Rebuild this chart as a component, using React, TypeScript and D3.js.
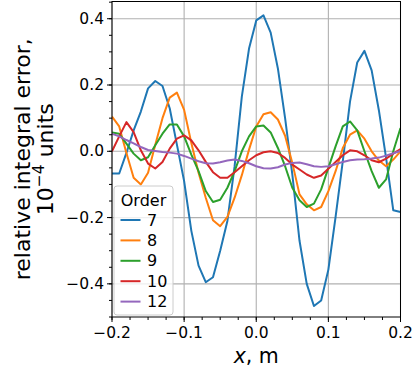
import React from "react";
import * as d3 from "d3";

// sample positions, m
const xs = [
  -0.2, -0.19, -0.18, -0.17, -0.16, -0.15, -0.14, -0.13, -0.12, -0.11, -0.1,
  -0.09, -0.08, -0.07, -0.06, -0.05, -0.04, -0.03, -0.02, -0.01, 0.0, 0.01,
  0.02, 0.03, 0.04, 0.05, 0.06, 0.07, 0.08, 0.09, 0.1, 0.11, 0.12, 0.13, 0.14,
  0.15, 0.16, 0.17, 0.18, 0.19, 0.2,
];

const order7 = [
  -0.067, -0.067, -0.005, 0.063, 0.12, 0.19, 0.212, 0.197, 0.13, 0.02, -0.09,
  -0.24, -0.345, -0.395, -0.38, -0.3, -0.21, -0.045, 0.165, 0.31, 0.395, 0.41,
  0.358, 0.25, 0.1, -0.07, -0.27, -0.4, -0.467, -0.45, -0.357, -0.198, -0.03,
  0.15, 0.268, 0.303, 0.244, 0.124, -0.02, -0.178, -0.183,
];
const order8 = [
  0.105, 0.075, -0.005, -0.08, -0.1, -0.065, 0.02, 0.1, 0.162, 0.177, 0.125,
  0.025, -0.065, -0.14, -0.208, -0.226, -0.198, -0.14, -0.072, 0.005, 0.075,
  0.112, 0.118, 0.096, 0.047, -0.035, -0.13, -0.16, -0.178, -0.168, -0.12,
  -0.06, 0.01, 0.05, 0.063, 0.038, 0.0, -0.028, -0.045, -0.025, 0.0,
];
const order9 = [
  0.057, 0.053, 0.023, -0.007, -0.027, -0.018, 0.018, 0.053, 0.081, 0.081,
  0.045, -0.01, -0.06, -0.12, -0.153, -0.146, -0.11, -0.06, 0.0, 0.045, 0.075,
  0.078, 0.057, 0.01, -0.045, -0.11, -0.148, -0.168, -0.158, -0.115, -0.05,
  0.015, 0.075, 0.09, 0.063, 0.0, -0.06, -0.11, -0.085, 0.0, 0.07,
];
const order10 = [
  0.0, 0.045, 0.088, 0.058, 0.003, -0.037, -0.052, -0.032, 0.008, 0.038, 0.048,
  0.033, 0.003, -0.032, -0.063, -0.08, -0.08, -0.063, -0.045, -0.027, -0.012,
  -0.003, 0.0, -0.005, -0.02, -0.04, -0.055, -0.07, -0.08, -0.073, -0.053,
  -0.032, -0.012, 0.003, 0.0, -0.012, -0.027, -0.033, -0.022, -0.007, 0.007,
];
const order12 = [
  0.053, 0.045, 0.034, 0.024, 0.013, 0.004, 0.001, -0.002, -0.004, -0.007,
  -0.014, -0.022, -0.03, -0.036, -0.037, -0.033, -0.028, -0.025, -0.029,
  -0.036, -0.045, -0.051, -0.052, -0.048, -0.04, -0.035, -0.034, -0.039,
  -0.045, -0.047, -0.045, -0.039, -0.032, -0.027, -0.025, -0.024, -0.022,
  -0.019, -0.013, -0.006, 0.001,
];

const orders = ["7", "8", "9", "10", "12"];
const seriesValues = [order7, order8, order9, order10, order12];
const colors = ["#1f77b4", "#ff7f0e", "#2ca02c", "#d62728", "#9467bd"];

const xTicks = [-0.2, -0.1, 0.0, 0.1, 0.2];
const yTicks = [-0.4, -0.2, 0.0, 0.2, 0.4];
const xMinor = [
  -0.2, -0.175, -0.15, -0.125, -0.1, -0.075, -0.05, -0.025, 0, 0.025, 0.05,
  0.075, 0.1, 0.125, 0.15, 0.175, 0.2,
];
const yMinor = [
  -0.5, -0.45, -0.4, -0.35, -0.3, -0.25, -0.2, -0.15, -0.1, -0.05, 0, 0.05,
  0.1, 0.15, 0.2, 0.25, 0.3, 0.35, 0.4, 0.45,
];

const W = 415;
const H = 369;
const m = { left: 112, right: 400.5, top: 1.5, bottom: 317 };
const FONT = "DejaVu Sans";

const fmt = (v: number) => d3.format(".1f")(v).replace("-", "\u2212");

export default function App() {
  const x = d3.scaleLinear().domain([-0.2, 0.2]).range([m.left, m.right]);
  const y = d3.scaleLinear().domain([-0.5, 0.452]).range([m.bottom, m.top]);

  const line = d3
    .line<number>()
    .x((_, i) => x(xs[i]))
    .y((d) => y(d));

  const legendX = 114;
  const legendY = 186;
  const rowY = (i: number) => legendY + 34 + i * 20.4;
  const midY = (m.top + m.bottom) / 2;

  return (
    <svg
      width={W}
      height={H}
      style={{ position: "absolute", left: 0, top: 0, background: "#fff" }}
      fontFamily={FONT}
    >
      <defs>
        <clipPath id="plot">
          <rect x={m.left} y={m.top} width={m.right - m.left} height={m.bottom - m.top} />
        </clipPath>
      </defs>

      {/* grid */}
      <g stroke="#b0b0b0" strokeWidth={1.1}>
        {xTicks.map((t) => (
          <line key={"gx" + t} x1={x(t)} x2={x(t)} y1={m.top} y2={m.bottom} />
        ))}
        {yTicks.map((t) => (
          <line key={"gy" + t} x1={m.left} x2={m.right} y1={y(t)} y2={y(t)} />
        ))}
      </g>

      {/* series */}
      <g clipPath="url(#plot)" fill="none" strokeWidth={2} strokeLinejoin="round">
        {seriesValues.map((vals, i) => (
          <path key={orders[i]} d={line(vals) || ""} stroke={colors[i]} />
        ))}
      </g>

      {/* frame */}
      <rect
        x={m.left}
        y={m.top}
        width={m.right - m.left}
        height={m.bottom - m.top}
        fill="none"
        stroke="#000"
        strokeWidth={1}
      />

      {/* ticks */}
      <g stroke="#000" strokeWidth={1}>
        {xMinor.map((t) => (
          <line key={"mx" + t} x1={x(t)} x2={x(t)} y1={m.bottom} y2={m.bottom + 3} />
        ))}
        {xTicks.map((t) => (
          <line key={"tx" + t} x1={x(t)} x2={x(t)} y1={m.bottom} y2={m.bottom + 5} />
        ))}
        {yMinor.map((t) => (
          <line key={"my" + t} x1={m.left - 3} x2={m.left} y1={y(t)} y2={y(t)} />
        ))}
        {yTicks.map((t) => (
          <line key={"ty" + t} x1={m.left - 5} x2={m.left} y1={y(t)} y2={y(t)} />
        ))}
      </g>

      <g fontSize={15.5} fill="#000">
        {xTicks.map((t) => (
          <text key={"lx" + t} x={x(t)} y={338} textAnchor="middle">
            {fmt(t)}
          </text>
        ))}
        {yTicks.map((t) => (
          <text
            key={"ly" + t}
            x={m.left - 8}
            y={y(t)}
            textAnchor="end"
            dominantBaseline="central"
          >
            {fmt(t)}
          </text>
        ))}
      </g>

      {/* axis labels */}
      <text x={(m.left + m.right) / 2} y={363} textAnchor="middle" fontSize={20.5}>
        <tspan fontStyle="italic">x</tspan>, m
      </text>
      <g transform={`translate(30,${midY}) rotate(-90)`} fontSize={22}>
        <text x={0} y={0} textAnchor="middle">
          relative integral error,
        </text>
        <text x={0} y={23} textAnchor="middle">
          10
          <tspan fontSize={15.5} dy={-9}>
            {"\u22124"}
          </tspan>
          <tspan dy={9}> units</tspan>
        </text>
      </g>

      {/* legend */}
      <g>
        <rect
          x={legendX}
          y={legendY}
          width={59}
          height={129}
          rx={3}
          fill="#fff"
          fillOpacity={0.8}
          stroke="#cccccc"
          strokeWidth={1}
        />
        <text x={legendX + 29.5} y={legendY + 19.5} textAnchor="middle" fontSize={16}>
          Order
        </text>
        {orders.map((o, i) => (
          <g key={"lg" + o}>
            <line
              x1={legendX + 6.5}
              x2={legendX + 26.5}
              y1={rowY(i)}
              y2={rowY(i)}
              stroke={colors[i]}
              strokeWidth={2}
            />
            <text x={legendX + 33} y={rowY(i)} dominantBaseline="central" fontSize={16}>
              {o}
            </text>
          </g>
        ))}
      </g>
    </svg>
  );
}
